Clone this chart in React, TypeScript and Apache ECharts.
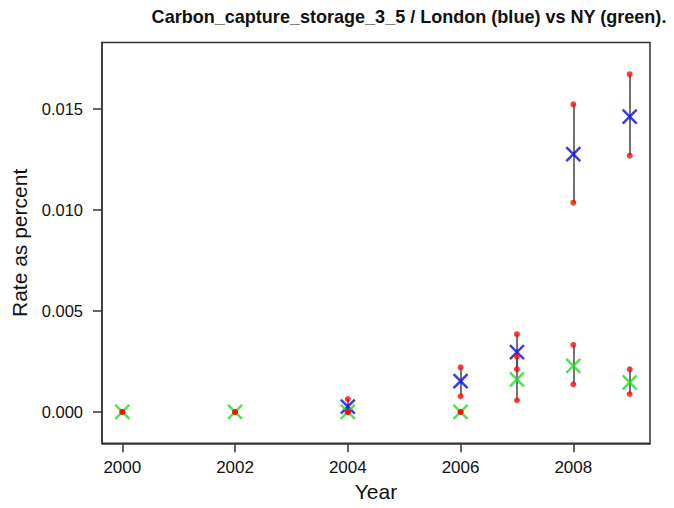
import React, { useEffect, useRef } from "react";
import * as echarts from "echarts";

const TITLE = "Carbon_capture_storage_3_5 / London (blue) vs NY (green).";
const X_NAME = "Year";
const Y_NAME = "Rate as percent";

const xTicks = [2000, 2002, 2004, 2006, 2008];
const yTicks = [0, 0.005, 0.01, 0.015];

const londonYears = [2004, 2006, 2007, 2008, 2009];
const londonRate = [0.00026, 0.00153, 0.00296, 0.01276, 0.01462];
const londonLow = [0.0, 0.00078, 0.00211, 0.01036, 0.01269];
const londonHigh = [0.00064, 0.00221, 0.00385, 0.01523, 0.01672];

const nyYears = [2000, 2002, 2004, 2006, 2007, 2008, 2009];
const nyRate = [0, 0, 0, 0, 0.00162, 0.00228, 0.00147];
const nyLow = [0, 0, 0, 0, 0.00058, 0.00137, 0.00089];
const nyHigh = [0, 0, 0, 0, 0.00274, 0.00332, 0.00211];

const FONT = "'Liberation Sans', Arial, Helvetica, sans-serif";
const X_PATH = "path://M0,0L10,10M10,0L0,10";

export default function App() {
  const ref = useRef<HTMLDivElement>(null);
  useEffect(() => {
    if (!ref.current) return;
    const chart = echarts.init(ref.current, null, { renderer: "svg" });

    const segs: any[] = [];
    const dots: number[][] = [];
    londonYears.forEach((y, i) => {
      segs.push({ coords: [[y, londonLow[i]], [y, londonHigh[i]]] });
      dots.push([y, londonLow[i]], [y, londonHigh[i]]);
    });
    nyYears.forEach((y, i) => {
      if (nyHigh[i] !== nyLow[i]) segs.push({ coords: [[y, nyLow[i]], [y, nyHigh[i]]] });
      dots.push([y, nyLow[i]], [y, nyHigh[i]]);
    });

    chart.setOption({
      animation: false,
      backgroundColor: "#ffffff",
      grid: {
        left: 102,
        right: 24,
        top: 42.5,
        bottom: 64.7,
        show: true,
        borderColor: "#333333",
        borderWidth: 1.5,
        backgroundColor: "transparent",
      },
      graphic: [
        {
          type: "text",
          x: 409,
          y: 7,
          scaleX: 0.95,
          style: {
            text: TITLE,
            font: `bold 19px ${FONT}`,
            fill: "#111111",
            textAlign: "center",
            textVerticalAlign: "top",
          },
        },
      ],
      xAxis: {
        type: "value",
        min: 1999.64,
        max: 2009.36,
        name: X_NAME,
        nameLocation: "middle",
        nameGap: 34,
        nameTextStyle: { fontFamily: FONT, fontSize: 21, color: "#111" },
        axisLine: { show: true, onZero: false, lineStyle: { color: "#333", width: 1.5 } },
        splitLine: { show: false },
        axisTick: {
          show: true,
          inside: false,
          length: 9,
          customValues: xTicks,
          lineStyle: { color: "#333", width: 1.5 },
        },
        axisLabel: {
          customValues: xTicks,
          margin: 16,
          fontFamily: FONT,
          fontSize: 17,
          color: "#111",
          formatter: (v: number) => String(Math.round(v)),
        },
      },
      yAxis: {
        type: "value",
        min: -0.00155,
        max: 0.01829,
        name: Y_NAME,
        nameLocation: "middle",
        nameGap: 72,
        nameRotate: 90,
        nameTextStyle: { fontFamily: FONT, fontSize: 21, color: "#111" },
        axisLine: { show: true, onZero: false, lineStyle: { color: "#333", width: 1.5 } },
        splitLine: { show: false },
        axisTick: {
          show: true,
          inside: false,
          length: 9,
          customValues: yTicks,
          lineStyle: { color: "#333", width: 1.5 },
        },
        axisLabel: {
          customValues: yTicks,
          margin: 19,
          fontFamily: FONT,
          fontSize: 16.5,
          color: "#111",
          formatter: (v: number) => v.toFixed(3),
        },
      },
      series: [
        {
          type: "lines",
          coordinateSystem: "cartesian2d",
          data: segs,
          lineStyle: { color: "#444444", width: 1.5, opacity: 1 },
          z: 2,
          silent: true,
        },
        {
          type: "scatter",
          name: "London",
          data: londonYears.map((y, i) => [y, londonRate[i]]),
          symbol: X_PATH,
          symbolSize: 14,
          itemStyle: { color: "none", borderColor: "#0a0ae6", borderWidth: 2.5 },
          z: 3,
        },
        {
          type: "scatter",
          name: "NY",
          data: nyYears.map((y, i) => [y, nyRate[i]]),
          symbol: X_PATH,
          symbolSize: 14,
          itemStyle: { color: "none", borderColor: "#22dd22", borderWidth: 2.5 },
          z: 4,
        },
        {
          type: "scatter",
          name: "CI",
          data: dots,
          symbol: "circle",
          symbolSize: 6,
          itemStyle: { color: "#ff0a0a" },
          z: 5,
        },
      ],
    });
    return () => chart.dispose();
  }, []);
  return <div ref={ref} style={{ width: 674, height: 508, margin: -8 }} />;
}
